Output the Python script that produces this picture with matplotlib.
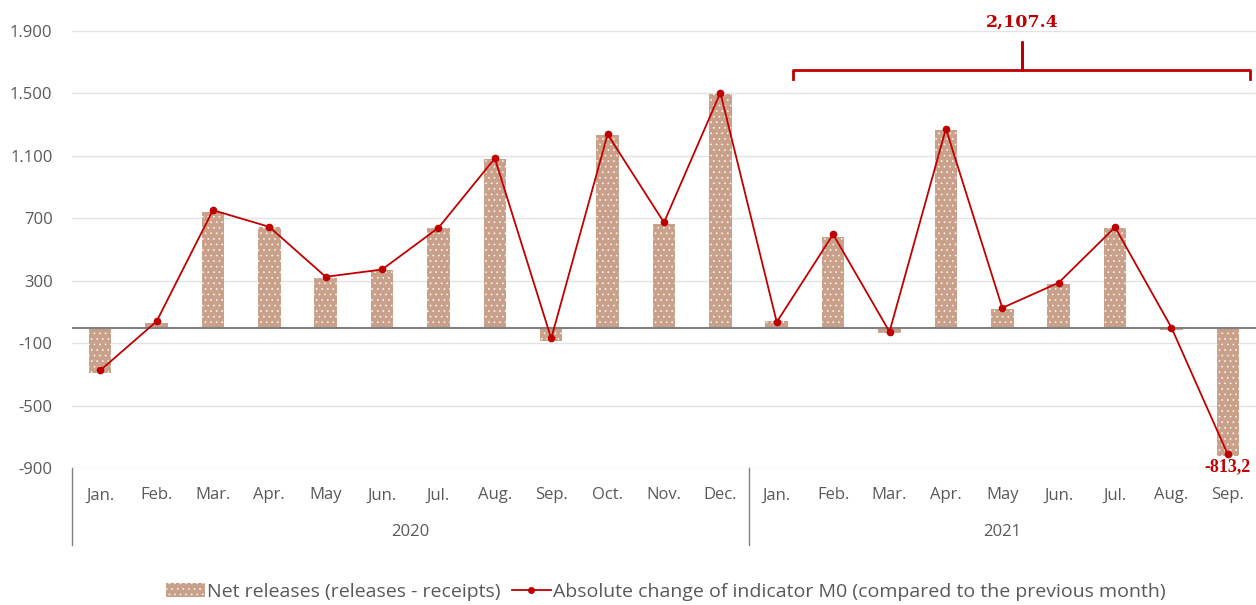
import numpy as np
import matplotlib
matplotlib.use("Agg")
from matplotlib import pyplot as plt
from matplotlib.ticker import FuncFormatter
from matplotlib.transforms import blended_transform_factory
from matplotlib.patches import Patch
from matplotlib.lines import Line2D

months = ["Jan.", "Feb.", "Mar.", "Apr.", "May", "Jun.", "Jul.", "Aug.", "Sep.", "Oct.", "Nov.", "Dec.",
          "Jan.", "Feb.", "Mar.", "Apr.", "May", "Jun.", "Jul.", "Aug.", "Sep."]
years = ["2020", "2021"]
year_counts = [12, 9]
net_releases = [-290, 30, 742, 641, 319, 366, 635, 1077, -85, 1233, 661, 1495,
                40, 581, -34, 1265, 118, 278, 639, -15, -825]
m0_change = [-275, 39, 752, 645, 325, 372, 639, 1084, -70, 1238, 673, 1505,
             35, 597, -27, 1274, 126, 287, 643, 0, -813.2]
total_label = "2,107.4"
last_label = "-813,2"

plt.rcParams['font.family'] = ['Open Sans', 'DejaVu Sans']
plt.rcParams['hatch.linewidth'] = 0.4

grey = "#595959"
red = "#C00000"
bar_col = "#C9A18A"

fig = plt.figure(figsize=(12.56, 6.05), dpi=100)
ax = fig.add_axes([0.0573, 0.2264, 0.9427, 0.7224])

x = np.arange(len(months))
ax.bar(x, net_releases, width=0.4, color=bar_col, edgecolor="white", linewidth=0, hatch="...", zorder=2)
ax.plot(x, m0_change, color=red, lw=1.3, marker="o", ms=4.5, zorder=3)

ax.set_ylim(-900, 1900)
ax.set_xlim(-0.5, len(months) - 0.5)
ax.set_yticks(np.arange(-900, 1901, 400))
ax.yaxis.set_major_formatter(FuncFormatter(lambda v, p: f"{v:,.0f}".replace(",", ".")))
ax.grid(axis="y", color="#E3E3E3", lw=1, zorder=0)
ax.axhline(0, color="#808080", lw=1.5, zorder=2.5)
for s in ax.spines.values():
    s.set_visible(False)
ax.tick_params(axis="y", length=0, pad=14, labelsize=12, labelcolor=grey)
ax.set_xticks(x)
ax.set_xticklabels(months)
ax.tick_params(axis="x", length=0, pad=14, labelsize=12, labelcolor=grey)

# year level of the category axis
tr = blended_transform_factory(ax.transData, ax.transAxes)
start = 0
bounds = [-0.5]
for yr, n in zip(years, year_counts):
    ax.text(start + (n - 1) / 2, -0.146, yr, transform=tr, ha="center", va="center",
            fontsize=12, color=grey)
    start += n
    bounds.append(start - 0.5)
for b in bounds[:-1]:
    ax.plot([b, b], [0, -0.176], transform=tr, color="#808080", lw=1, clip_on=False)

# bracket over 2021
bx0, bx1, bxm = 12.29, 20.39, 16.35
ax.plot([bx0, bx0, bxm, bxm, bxm, bx1, bx1], [1590, 1650, 1650, 1830, 1650, 1650, 1590],
        color=red, lw=2, clip_on=False, solid_joinstyle="round")
ax.text(bxm, 1955, total_label, ha="center", va="center", fontsize=12.5, fontweight="bold",
        color=red, family="DejaVu Serif")
ax.text(x[-1], -890, last_label, ha="center", va="center", fontsize=13, fontweight="bold",
        color=red, family="Liberation Serif", clip_on=False)

handles = [Patch(facecolor=bar_col, edgecolor="white", hatch="...", lw=0),
           Line2D([], [], color=red, lw=1.3, marker="o", ms=4)]
labels = ["Net releases (releases - receipts)",
          "Absolute change of indicator M0 (compared to the previous month)"]
fig.legend(handles, labels, loc="center", bbox_to_anchor=(0.53, 0.022), ncol=2, frameon=False,
           fontsize=14, labelcolor=grey, handlelength=2.0, handletextpad=0.1, columnspacing=0.6)

fig.savefig("out.png", dpi=100)
